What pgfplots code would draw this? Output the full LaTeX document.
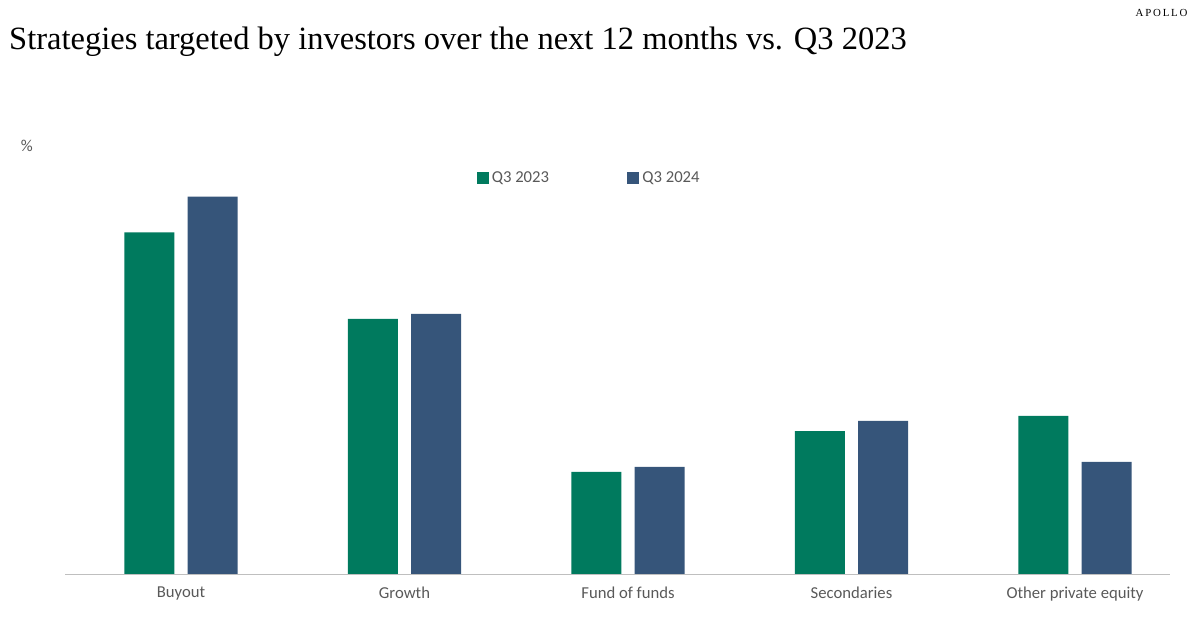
\documentclass[border=0pt]{standalone}
\usepackage{pgfplots}
\pgfplotsset{compat=1.18}
\usepackage{fontspec}
\setmainfont{Carlito}
\newfontfamily\serif{Liberation Serif}
\definecolor{cgreen}{HTML}{007A5E}
\definecolor{cnavy}{HTML}{36557A}
\definecolor{tgray}{HTML}{595959}
\begin{document}
\begin{tikzpicture}
\path (0,0) rectangle (719.4pt,376.8pt);
\node[anchor=west,font=\serif\fontsize{19.5}{22}\selectfont] at (2pt,352pt) {Strategies targeted by investors over the next 12 months vs. Q3 2023};
\node[anchor=east,font=\serif\fontsize{6.5}{8}\selectfont] at (716pt,369pt) {A\,P\,O\,L\,L\,O};
\node[anchor=west,font=\fontsize{10}{12}\selectfont,text=tgray] at (9pt,289pt) {\%};
\begin{axis}[
  at={(39pt,32.4pt)}, anchor=south west,
  scale only axis, width=663pt, height=244.8pt,
  xmin=-0.519, xmax=4.425, ymin=0, ymax=80,
  axis x line*=bottom, axis y line=none,
  x axis line style={draw=gray!50, -},
  xtick={0,1,2,3,4}, xtick style={draw=none},
  xticklabels={Buyout,Growth,Fund of funds,Secondaries,Other private equity},
  ytick={0,10,...,80}, yticklabel={\pgfmathprintnumber{\tick}\%},
  yticklabel style={text=tgray, font=\fontsize{10}{12}\selectfont},
  xticklabel style={text=tgray, font=\fontsize{10}{12}\selectfont},
  /pgf/number format/assume math mode=true,
  ymajorticks=true, ytick style={draw=none},
  ybar, bar width=30pt,
  legend style={draw=none, at={(0.475,0.97)}, anchor=center, legend columns=2,
    font=\fontsize{10}{12}\selectfont, text=tgray, /tikz/every even column/.append style={column sep=45pt}},
  legend image code/.code={\fill[#1] (0pt,-3.5pt) rectangle (7pt,3.5pt);},
]
\addplot[fill=cgreen, draw=none, bar shift=-19pt] coordinates {(0,67) (1,50) (2,20) (3,28) (4,31)};
\addplot[fill=cnavy, draw=none, bar shift=19pt] coordinates {(0,74) (1,51) (2,21) (3,30) (4,22)};
\legend{Q3 2023, Q3 2024}
\end{axis}
\end{tikzpicture}
\end{document}
